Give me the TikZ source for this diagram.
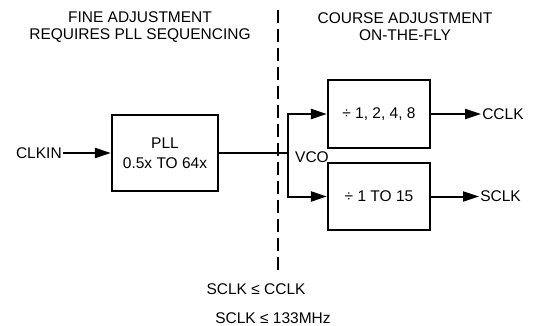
\documentclass[tikz,border=0pt]{standalone}
\usepackage{fontspec}
\setmainfont{Liberation Sans}
\usetikzlibrary{arrows.meta, positioning}

\begin{document}
\begin{tikzpicture}[
    x=1pt, y=-1pt,
    font=\fontsize{15.5}{17}\selectfont,
    block/.style={rectangle, draw, line width=2.2pt, minimum width=102pt, minimum height=68pt, align=center, inner sep=0pt, font=\fontsize{15.5}{20}\selectfont},
    txt/.style={inner sep=1pt, align=center},
    arrow/.style={-{Triangle[length=16pt,width=10pt]}, line width=2pt},
    wire/.style={line width=2pt},
    divider/.style={line width=1.6pt, dash pattern=on 13pt off 6pt}
]
\useasboundingbox (0,0) rectangle (533,326);

% headings
\node[txt] (fine) at (140,27) {FINE ADJUSTMENT\\REQUIRES PLL SEQUENCING};
\node[txt] (course) at (405,27) {COURSE ADJUSTMENT\\ON-THE-FLY};

% dashed divider
\coordinate (top) at (278,10);
\coordinate (bot) at (278,271);
\draw[divider] (top) -- (bot);

% pll
\node[block, minimum width=106pt, minimum height=76pt] (pll) at (165,153) {PLL\\0.5x TO 64x};
\node[txt, left=48pt of pll] (clkin) {CLKIN};

% dividers
\node[block] (divc) at (379,114) {÷ 1, 2, 4, 8};
\node[block, minimum height=67pt] (divs) at (379,196.5) {÷ 1 TO 15};
\node[txt, right=50pt of divc] (cclk) {CCLK};
\node[txt, right=48pt of divs] (sclk) {SCLK};

\coordinate (split) at (288,153);
\node[txt] (vco) at (312,157) {VCO};

% limits
\node[txt] (cond1) at (256,289) {SCLK ≤ CCLK};
\node[txt] (cond2) at (273,318) {SCLK ≤ 133MHz};

\draw[arrow] (clkin) -- (pll);
\draw[wire] (pll.east) -- (split);
\draw[arrow] (split) |- (divc.west);
\draw[arrow] (split) |- (divs.west);
\draw[arrow] (divc) -- (cclk);
\draw[arrow] (divs) -- (sclk);

\end{tikzpicture}
\end{document}
